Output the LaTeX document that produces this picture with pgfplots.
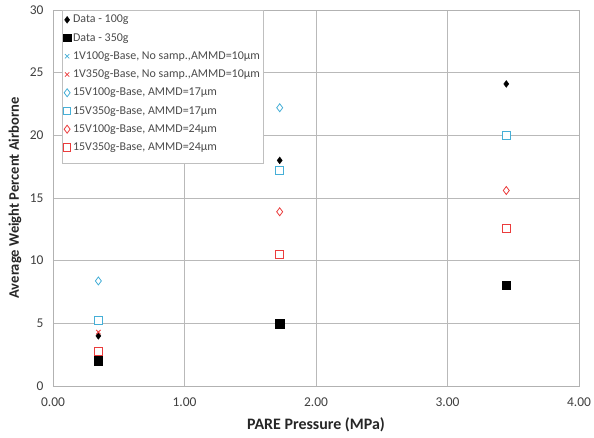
\documentclass[border=0pt]{standalone}
\usepackage{pgfplots}
\pgfplotsset{compat=1.18}
\usepackage{fontspec}
\setmainfont{Carlito}
\definecolor{cy}{RGB}{70,175,215}
\definecolor{rd}{RGB}{235,60,60}
\begin{document}
\begin{tikzpicture}
\begin{axis}[
  name=ax,
  scale only axis,
  width=526bp, height=376bp,
  xmin=0, xmax=4, ymin=0, ymax=30,
  xtick={0,1,2,3,4}, ytick={0,5,10,15,20,25,30},
  xticklabel style={/pgf/number format/fixed, /pgf/number format/fixed zerofill, /pgf/number format/precision=2, yshift=-8bp},
  /pgf/number format/assume math mode=true,
  grid=major,
  grid style={gray!55, line width=0.7pt},
  axis line style={gray!60, line width=0.7pt},
  tick style={draw=none},
  tick label style={font=\fontsize{13.5}{15}\selectfont, text=black!75},
  yticklabel style={xshift=-6bp},
  xlabel={\textbf{PARE Pressure (MPa)}},
  ylabel={\textbf{Average Weight Percent Airborne}},
  label style={text=black!85},
  xlabel style={at={(axis description cs:0.5,-0.104)}, anchor=center, font=\fontsize{16}{18}\selectfont},
  ylabel style={at={(axis description cs:-0.0722,0.5)}, anchor=center, font=\fontsize{14.6}{16}\selectfont},
  legend cell align=left,
  legend style={at={(rel axis cs:0.017,1)}, anchor=north west, font=\fontsize{12}{13}\selectfont, draw=gray!50, fill=white, row sep=5bp, inner xsep=1pt, inner ysep=3pt, text=black!70},
  legend image code/.code={\draw[mark repeat=2,mark phase=2] plot coordinates {(0cm,0cm) (0.09cm,0cm) (0.18cm,0cm)};},
]
\addplot[only marks, mark=diamond*, mark size=3.4bp, black, fill=black] coordinates {(0.345,4.0) (1.724,18.0) (3.447,24.1)};
\addlegendentry{Data - 100g}
\addplot[only marks, mark=square*, mark size=4.3bp, black, fill=black,
  legend image code/.code={\fill[black] (0.09cm-3.6bp,-3.6bp) rectangle (0.09cm+3.6bp,3.6bp);}] coordinates {(0.345,2.0) (1.724,4.95) (3.447,8.05)};
\addlegendentry{Data - 350g}
\addplot[only marks, mark=x, mark size=3bp, color=cy, mark options={draw=cy}, thick] coordinates {(0.345,5.3)};
\addlegendentry{1V100g-Base, No samp.,AMMD=10µm}
\addplot[only marks, mark=x, mark size=3bp, color=rd, mark options={draw=rd}, thick] coordinates {(0.345,4.3)};
\addlegendentry{1V350g-Base, No samp.,AMMD=10µm}
\addplot[only marks, mark=diamond*, mark size=4bp, color=cy, mark options={draw=cy, fill=white}, thick] coordinates {(0.345,8.38) (1.724,22.2)};
\addlegendentry{15V100g-Base, AMMD=17µm}
\addplot[only marks, mark=square*, mark size=4bp, color=cy, mark options={draw=cy, fill=white}, thick,
  legend image code/.code={\draw[cy, thick, fill=white] (0.09cm-3.6bp,-3.6bp) rectangle (0.09cm+3.6bp,3.6bp);}] coordinates {(0.345,5.27) (1.724,17.2) (3.447,20.0)};
\addlegendentry{15V350g-Base, AMMD=17µm}
\addplot[only marks, mark=diamond*, mark size=4bp, color=rd, mark options={draw=rd, fill=white}, thick] coordinates {(1.724,13.9) (3.447,15.6)};
\addlegendentry{15V100g-Base, AMMD=24µm}
\addplot[only marks, mark=square*, mark size=4bp, color=rd, mark options={draw=rd, fill=white}, thick,
  legend image code/.code={\draw[draw=rd, thick, fill=white] (0.09cm-3.6bp,-3.6bp) rectangle (0.09cm+3.6bp,3.6bp);}] coordinates {(0.345,2.8) (1.724,10.5) (3.447,12.6)};
\addlegendentry{15V350g-Base, AMMD=24µm}
\addlegendimage{empty legend}
\addlegendentry[inner sep=0pt]{}
\end{axis}
\pgfresetboundingbox
\useasboundingbox ([shift={(-53bp,-52bp)}]ax.south west) rectangle ([shift={(15bp,10bp)}]ax.north east);
\end{tikzpicture}
\end{document}
